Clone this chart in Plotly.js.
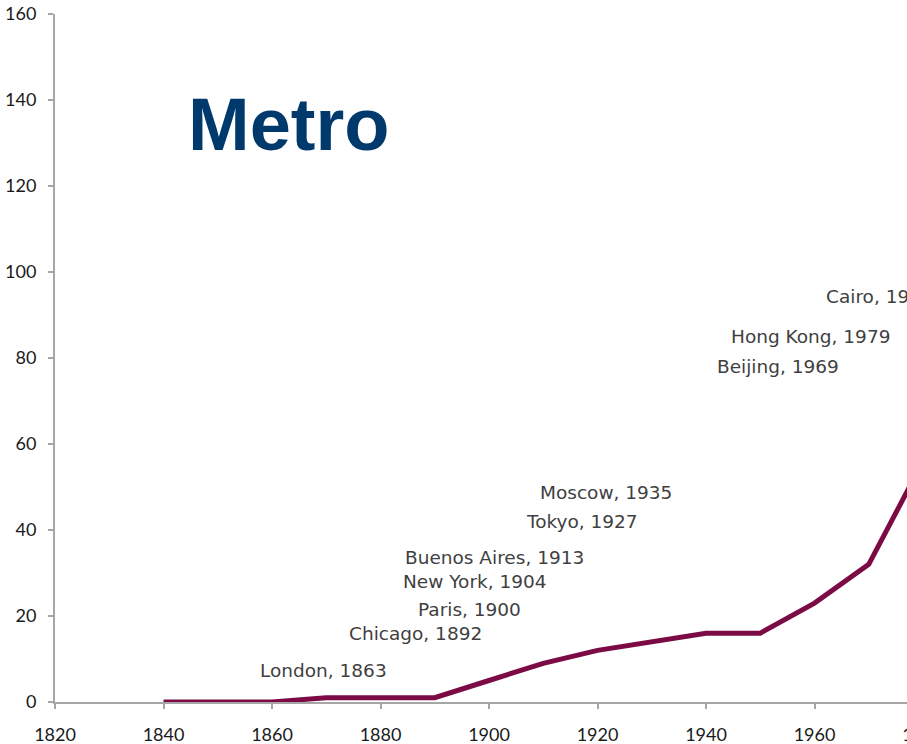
<!DOCTYPE html>
<html>
<head>
<meta charset="utf-8">
<script src="https://cdn.plot.ly/plotly-3.0.1.min.js"></script>
<style>
html, body { margin: 0; padding: 0; overflow: hidden; background: #ffffff; }
#chart { width: 1140px; height: 744px; }
</style>
</head>
<body>
<div id="chart"></div>
<script>
// Data
const years = [1840, 1850, 1860, 1870, 1880, 1890, 1900, 1910, 1920, 1930, 1940, 1950, 1960, 1970, 1980];
const metroCities = [0, 0, 0, 1, 1, 1, 5, 9, 12, 14, 16, 16, 23, 32, 56];
const cityLabels = ["London, 1863", "Chicago, 1892", "Paris, 1900", "New York, 1904", "Buenos Aires, 1913",
                    "Tokyo, 1927", "Moscow, 1935", "Beijing, 1969", "Hong Kong, 1979", "Cairo, 1987"];
const labelX = [1857.6, 1874.0, 1886.7, 1884.0, 1884.3, 1906.6, 1909.2, 1941.8, 1944.4, 1961.9];
const labelY = [7.4, 16, 21.4, 28.1, 33.7, 41.9, 48.8, 78.1, 85.1, 94.4];
const xTicks = [1820, 1840, 1860, 1880, 1900, 1920, 1940, 1960, 1980, 2000, 2020];
const yTicks = [0, 20, 40, 60, 80, 100, 120, 140, 160];

const trace = {
  x: years,
  y: metroCities,
  type: 'scatter',
  mode: 'lines',
  line: { color: '#7b0a45', width: 5 },
  hoverinfo: 'skip'
};

const annotations = cityLabels.map((t, i) => ({
  x: labelX[i], y: labelY[i], xref: 'x', yref: 'y',
  text: t, showarrow: false, xanchor: 'left', yanchor: 'middle', borderpad: 0,
  font: { family: 'DejaVu Sans', size: 18.5, color: '#3f3f3f' }
}));
annotations.push({
  x: 0.1217, y: 0.8387, xref: 'paper', yref: 'paper',
  text: '<b>Metro</b>', showarrow: false, xanchor: 'left', yanchor: 'middle', borderpad: 0,
  font: { family: 'Liberation Sans', size: 74, color: '#00396b' }
});

const axisCommon = {
  showgrid: false, zeroline: false, showline: true,
  linecolor: '#a6a6a6', linewidth: 2,
  ticks: 'outside', ticklen: 5, tickwidth: 2, tickcolor: '#a6a6a6',
  tickfont: { family: 'Lato', size: 18, color: '#1a1a1a' },
  fixedrange: true
};

const layout = {
  width: 1140, height: 744,
  margin: { l: 55, r: 0, t: 14, b: 42 },
  paper_bgcolor: '#ffffff', plot_bgcolor: '#ffffff',
  showlegend: false,
  xaxis: Object.assign({}, axisCommon, {
    range: [1820, 2020], tickmode: 'array', tickvals: xTicks, ticktext: xTicks.map(String),
    ticklabelstandoff: 10
  }),
  yaxis: Object.assign({}, axisCommon, {
    range: [0, 160], tickmode: 'array', tickvals: yTicks, ticktext: yTicks.map(String),
    ticklabelstandoff: 8
  }),
  annotations: annotations
};

Plotly.newPlot('chart', [trace], layout, { displayModeBar: false, staticPlot: true });
</script>
</body>
</html>
